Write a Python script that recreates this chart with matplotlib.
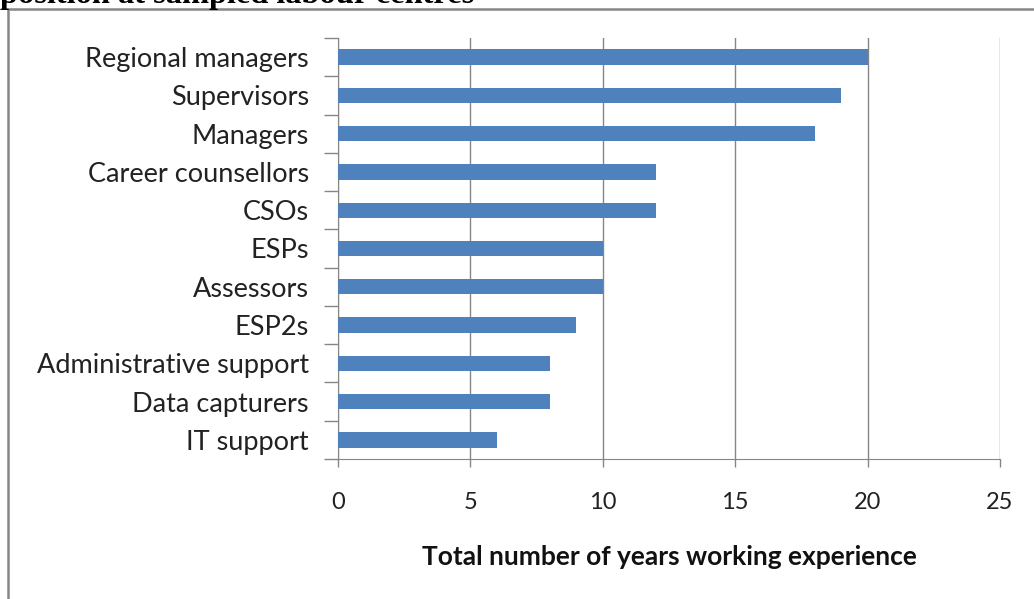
import numpy as np
import matplotlib.pyplot as plt
from matplotlib.patches import Rectangle

# staff positions and their total years of working experience
positions = ["Regional managers", "Supervisors", "Managers", "Career counsellors",
             "CSOs", "ESPs", "Assessors", "ESP2s", "Administrative support",
             "Data capturers", "IT support"]
years = [20, 19, 18, 12, 12, 10, 10, 9, 8, 8, 6]
xticks = [0, 5, 10, 15, 20, 25]

W, H = 1034, 599
fig = plt.figure(figsize=(W / 100, H / 100), dpi=100)

# frame around the chart area
fig.patches.append(Rectangle((8 / W, -0.05), 1.1, 1 - 9 / H + 0.05,
                             transform=fig.transFigure, fill=False,
                             edgecolor="#878787", linewidth=1.8, zorder=0))

# caption above the frame (mostly cut off at the top)
fig.text(0, 1 - 3 / H, "position at sampled labour centres", family="Liberation Serif",
         weight="bold", fontsize=23.3, va="baseline", ha="left")

ax = fig.add_axes([338 / W, 1 - 459 / H, (1000 - 338) / W, (459 - 38) / H])

n = len(positions)
ypos = np.arange(n)[::-1]
ax.barh(ypos, years, height=0.4, color="#4F81BD", zorder=3)

ax.set_xlim(0, 25)
ax.set_ylim(-0.5, n - 0.5)
ax.set_xticks(xticks)
ax.set_xticklabels([str(t) for t in xticks], family="Lato", fontsize=17,
                   color="#222222")
ax.tick_params(axis="x", length=6, width=1, color="#868686", pad=18)

# y ticks sit on category boundaries, labels in the middle
ax.set_yticks(np.arange(n + 1) - 0.5)
ax.set_yticklabels([])
ax.set_yticks(ypos, minor=True)
ax.set_yticklabels(positions, minor=True, family="Lato", fontsize=19.5,
                   color="#222222")
ax.tick_params(axis="y", which="major", length=10, width=1, color="#868686")
ax.tick_params(axis="y", which="minor", length=0, pad=21)

ax.grid(axis="x", color="#868686", linewidth=1, zorder=0)
for s in ["top", "right"]:
    ax.spines[s].set_visible(False)
ax.spines["left"].set_color("#868686")
ax.spines["bottom"].set_color("#868686")

ax.set_xlabel("Total number of years working experience", family="Lato",
              weight="bold", fontsize=19, labelpad=23, color="#111111")

fig.savefig("out.png", dpi=100)
